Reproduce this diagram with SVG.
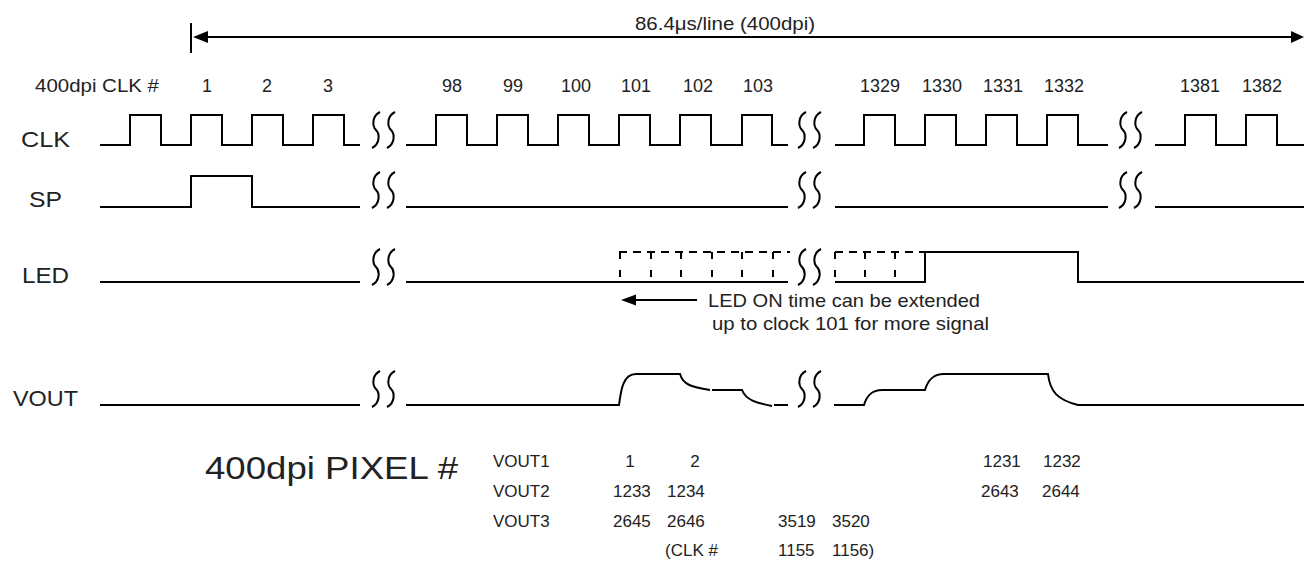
<svg xmlns="http://www.w3.org/2000/svg" width="1304" height="561" viewBox="0 0 1304 561">
<style>
.w{fill:none;stroke:#000;stroke-width:2;stroke-linejoin:miter}
.dh{fill:none;stroke:#000;stroke-width:2;stroke-dasharray:8 6}
.dv{fill:none;stroke:#000;stroke-width:2;stroke-dasharray:7 11}
.brk{fill:none;stroke:#000;stroke-width:2}
text{font-family:"Liberation Sans",Arial,sans-serif;fill:#222}
.t17{font-size:17px}
.t18{font-size:18px}
.t19{font-size:19px}
.t22{font-size:22px}
.mid{text-anchor:middle}
</style>
<defs>
<path id="brk" class="brk" d="M4,-18 C-4,-14 -4,-4 0,0 C4,4 4,14 -4,18"/>
</defs>
<rect width="1304" height="561" fill="#fff"/>
<g id="span">
<path class="w" d="M191,23 V53 M200,37 H1296"/>
<polygon points="193,37 208,31 208,43" fill="#000"/>
<polygon points="1304,37 1291,31 1291,43" fill="#000"/>
<text class="t19" x="635" y="30" textLength="180" lengthAdjust="spacingAndGlyphs">86.4μs/line (400dpi)</text>
</g>
<g id="clknum" class="t18">
<text x="35" y="92" textLength="124" lengthAdjust="spacingAndGlyphs">400dpi CLK #</text>
<text class="mid" x="207" y="92">1</text>
<text class="mid" x="267" y="92">2</text>
<text class="mid" x="328" y="92">3</text>
<text class="mid" x="452" y="92">98</text>
<text class="mid" x="513" y="92">99</text>
<text class="mid" x="576" y="92">100</text>
<text class="mid" x="636" y="92">101</text>
<text class="mid" x="698" y="92">102</text>
<text class="mid" x="758" y="92">103</text>
<text class="mid" x="880" y="92">1329</text>
<text class="mid" x="942" y="92">1330</text>
<text class="mid" x="1003" y="92">1331</text>
<text class="mid" x="1064" y="92">1332</text>
<text class="mid" x="1200" y="92">1381</text>
<text class="mid" x="1262" y="92">1382</text>
</g>
<g id="labels" class="t22">
<text x="21" y="147" textLength="49" lengthAdjust="spacingAndGlyphs">CLK</text>
<text x="29" y="207" textLength="33" lengthAdjust="spacingAndGlyphs">SP</text>
<text x="22" y="283" textLength="47" lengthAdjust="spacingAndGlyphs">LED</text>
<text x="13" y="406" textLength="65" lengthAdjust="spacingAndGlyphs">VOUT</text>
</g>
<g id="clk">
<path class="w" d="M100,145 H130 V115 H161 V145 H191 V115 H222 V145 H252 V115 H283 V145 H313 V115 H344 V145 H360"/>
<path class="w" d="M406,145 H436 V115 H467 V145 H497 V115 H528 V145 H558 V115 H589 V145 H619 V115 H650 V145 H680 V115 H711 V145 H742 V115 H772 V145 H788"/>
<path class="w" d="M835,145 H864 V115 H895 V145 H925 V115 H956 V145 H986 V115 H1017 V145 H1047 V115 H1078 V145 H1108"/>
<path class="w" d="M1155,145 H1185 V115 H1216 V145 H1246 V115 H1277 V145 H1304"/>
<use href="#brk" x="376" y="130"/><use href="#brk" x="391" y="130"/>
<use href="#brk" x="802" y="130"/><use href="#brk" x="817" y="130"/>
<use href="#brk" x="1123" y="130"/><use href="#brk" x="1138" y="130"/>
</g>
<g id="sp">
<path class="w" d="M100,207 H191 V176 H252 V207 H360 M406,207 H788 M835,207 H1108 M1155,207 H1304"/>
<use href="#brk" x="376" y="190"/><use href="#brk" x="391" y="190"/>
<use href="#brk" x="802" y="190"/><use href="#brk" x="817" y="190"/>
<use href="#brk" x="1123" y="190"/><use href="#brk" x="1138" y="190"/>
</g>
<g id="led">
<path class="w" d="M100,282 H360 M406,282 H788 M835,282 H925 V252 H1078 V282 H1304"/>
<path class="dh" d="M619,252 H790 M835,252 H925"/>
<path class="dv" d="M620,252 V282 M651,252 V282 M681,252 V282 M712,252 V282 M742,252 V282 M773,252 V282 M835,252 V282 M865,252 V282 M895,252 V282"/>
<use href="#brk" x="376" y="267"/><use href="#brk" x="391" y="267"/>
<use href="#brk" x="802" y="267"/><use href="#brk" x="817" y="267"/>
</g>
<g id="note">
<path class="w" d="M697,300 H632"/>
<polygon points="621,300 636,294.5 636,305.5" fill="#000"/>
<text class="t19" x="708" y="307" textLength="272" lengthAdjust="spacingAndGlyphs">LED ON time can be extended</text>
<text class="t19" x="712" y="330" textLength="277" lengthAdjust="spacingAndGlyphs">up to clock 101 for more signal</text>
</g>
<g id="vout">
<path class="w" d="M100,405 H360"/>
<path class="w" d="M406,405 H619 C621,390 623,374 636,374 H680 C683,385 692,387 710,390"/>
<path class="w" d="M712,390 H742 C746,400 756,403 772,406"/>
<path class="w" d="M774,405 H788"/>
<path class="w" d="M834,405 H864 C867,395 872,390 882,390 H925 C928,380 933,374 944,374 H1048 C1050,392 1058,400 1078,405 H1304"/>
<use href="#brk" x="376" y="389"/><use href="#brk" x="391" y="389"/>
<use href="#brk" x="802" y="389"/><use href="#brk" x="817" y="389"/>
</g>
<g id="pixel">
<text x="205" y="479" style="font-size:32px" textLength="253" lengthAdjust="spacingAndGlyphs">400dpi PIXEL #</text>
<g class="t17">
<text x="493" y="467">VOUT1</text>
<text x="493" y="497">VOUT2</text>
<text x="493" y="527">VOUT3</text>
<text class="mid" x="630" y="467">1</text>
<text class="mid" x="695" y="467">2</text>
<text x="983" y="467">1231</text>
<text x="1043" y="467">1232</text>
<text x="613" y="497">1233</text>
<text x="667" y="497">1234</text>
<text x="981" y="497">2643</text>
<text x="1042" y="497">2644</text>
<text x="613" y="527">2645</text>
<text x="667" y="527">2646</text>
<text x="778" y="527">3519</text>
<text x="832" y="527">3520</text>
<text x="665" y="556">(CLK #</text>
<text x="778" y="556">1155</text>
<text x="832" y="556">1156)</text>
</g>
</g>
</svg>
